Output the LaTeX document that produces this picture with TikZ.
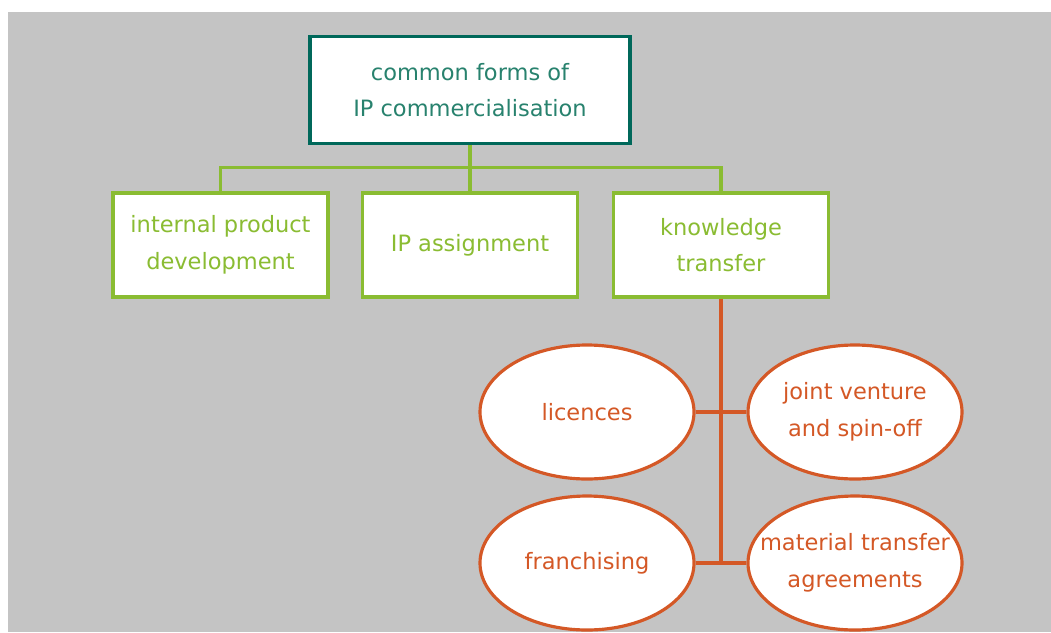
\documentclass[tikz,border=0pt]{standalone}
\usepackage{fontspec}
\setmainfont{DejaVu Sans}
\usetikzlibrary{shapes.geometric}
\definecolor{ipteal}{RGB}{0,104,90}
\definecolor{iptealtext}{RGB}{40,130,110}
\definecolor{ipgreen}{RGB}{138,188,50}
\definecolor{iporange}{RGB}{212,88,38}
\definecolor{ipgray}{RGB}{196,196,196}
\tikzset{
	topbox/.style={rectangle,draw=ipteal,fill=white,line width=3pt*0.75,minimum width=320,minimum height=107,align=center,text=iptealtext},
	formbox/.style={rectangle,draw=ipgreen,fill=white,line width=3pt*0.75,minimum width=215,minimum height=104,align=center,text=ipgreen},
	kindoval/.style={ellipse,draw=iporange,fill=white,line width=3pt*0.75,minimum width=214,minimum height=134,inner xsep=-0.75cm,inner ysep=0pt,align=center,text=iporange},
	greenline/.style={draw=ipgreen,line width=3pt*0.75},
	orangeline/.style={draw=iporange,line width=3pt*0.75}
}
\begin{document}
\begin{tikzpicture}[x=0.025cm,y=-0.025cm,font=\fontsize{16}{26}\selectfont,
	minimum width/.style={/pgf/minimum width=#1*0.025cm},
	minimum height/.style={/pgf/minimum height=#1*0.025cm}]
	% Background
	\useasboundingbox (0,0) rectangle (1051,632);
	\fill[white] (0,0) rectangle (1051,632);
	\fill[ipgray] (8,12) rectangle (1051,632);
	% Top box
	\node[topbox] (top) at (470,90) {common forms of\\IP commercialisation};
	% Forms
	\node[formbox] (ipd) at (220.5,245) {internal product\\development};
	\node[formbox] (ipa) at (470,245) {IP assignment};
	\node[formbox] (kt) at (721,245) {knowledge\\transfer};
	% Green connectors
	\draw[greenline] (top.south) -- (ipa.north);
	\draw[greenline] (ipd.north) -- ++(0,-24) -| (kt.north);
	% Kinds of knowledge transfer
	\node[kindoval] (lic) at (587,412) {licences};
	\node[kindoval] (jv) at (855,412) {joint venture\\and spin-off};
	\node[kindoval] (fr) at (587,563) {franchising};
	\node[kindoval] (mta) at (855,563) {material transfer\\agreements};
	% Orange connectors
	\draw[orangeline] (kt.south) -- (kt.south |- fr.east);
	\draw[orangeline] (lic.east) -- (jv.west);
	\draw[orangeline] (fr.east) -- (mta.west);
\end{tikzpicture}
\end{document}
